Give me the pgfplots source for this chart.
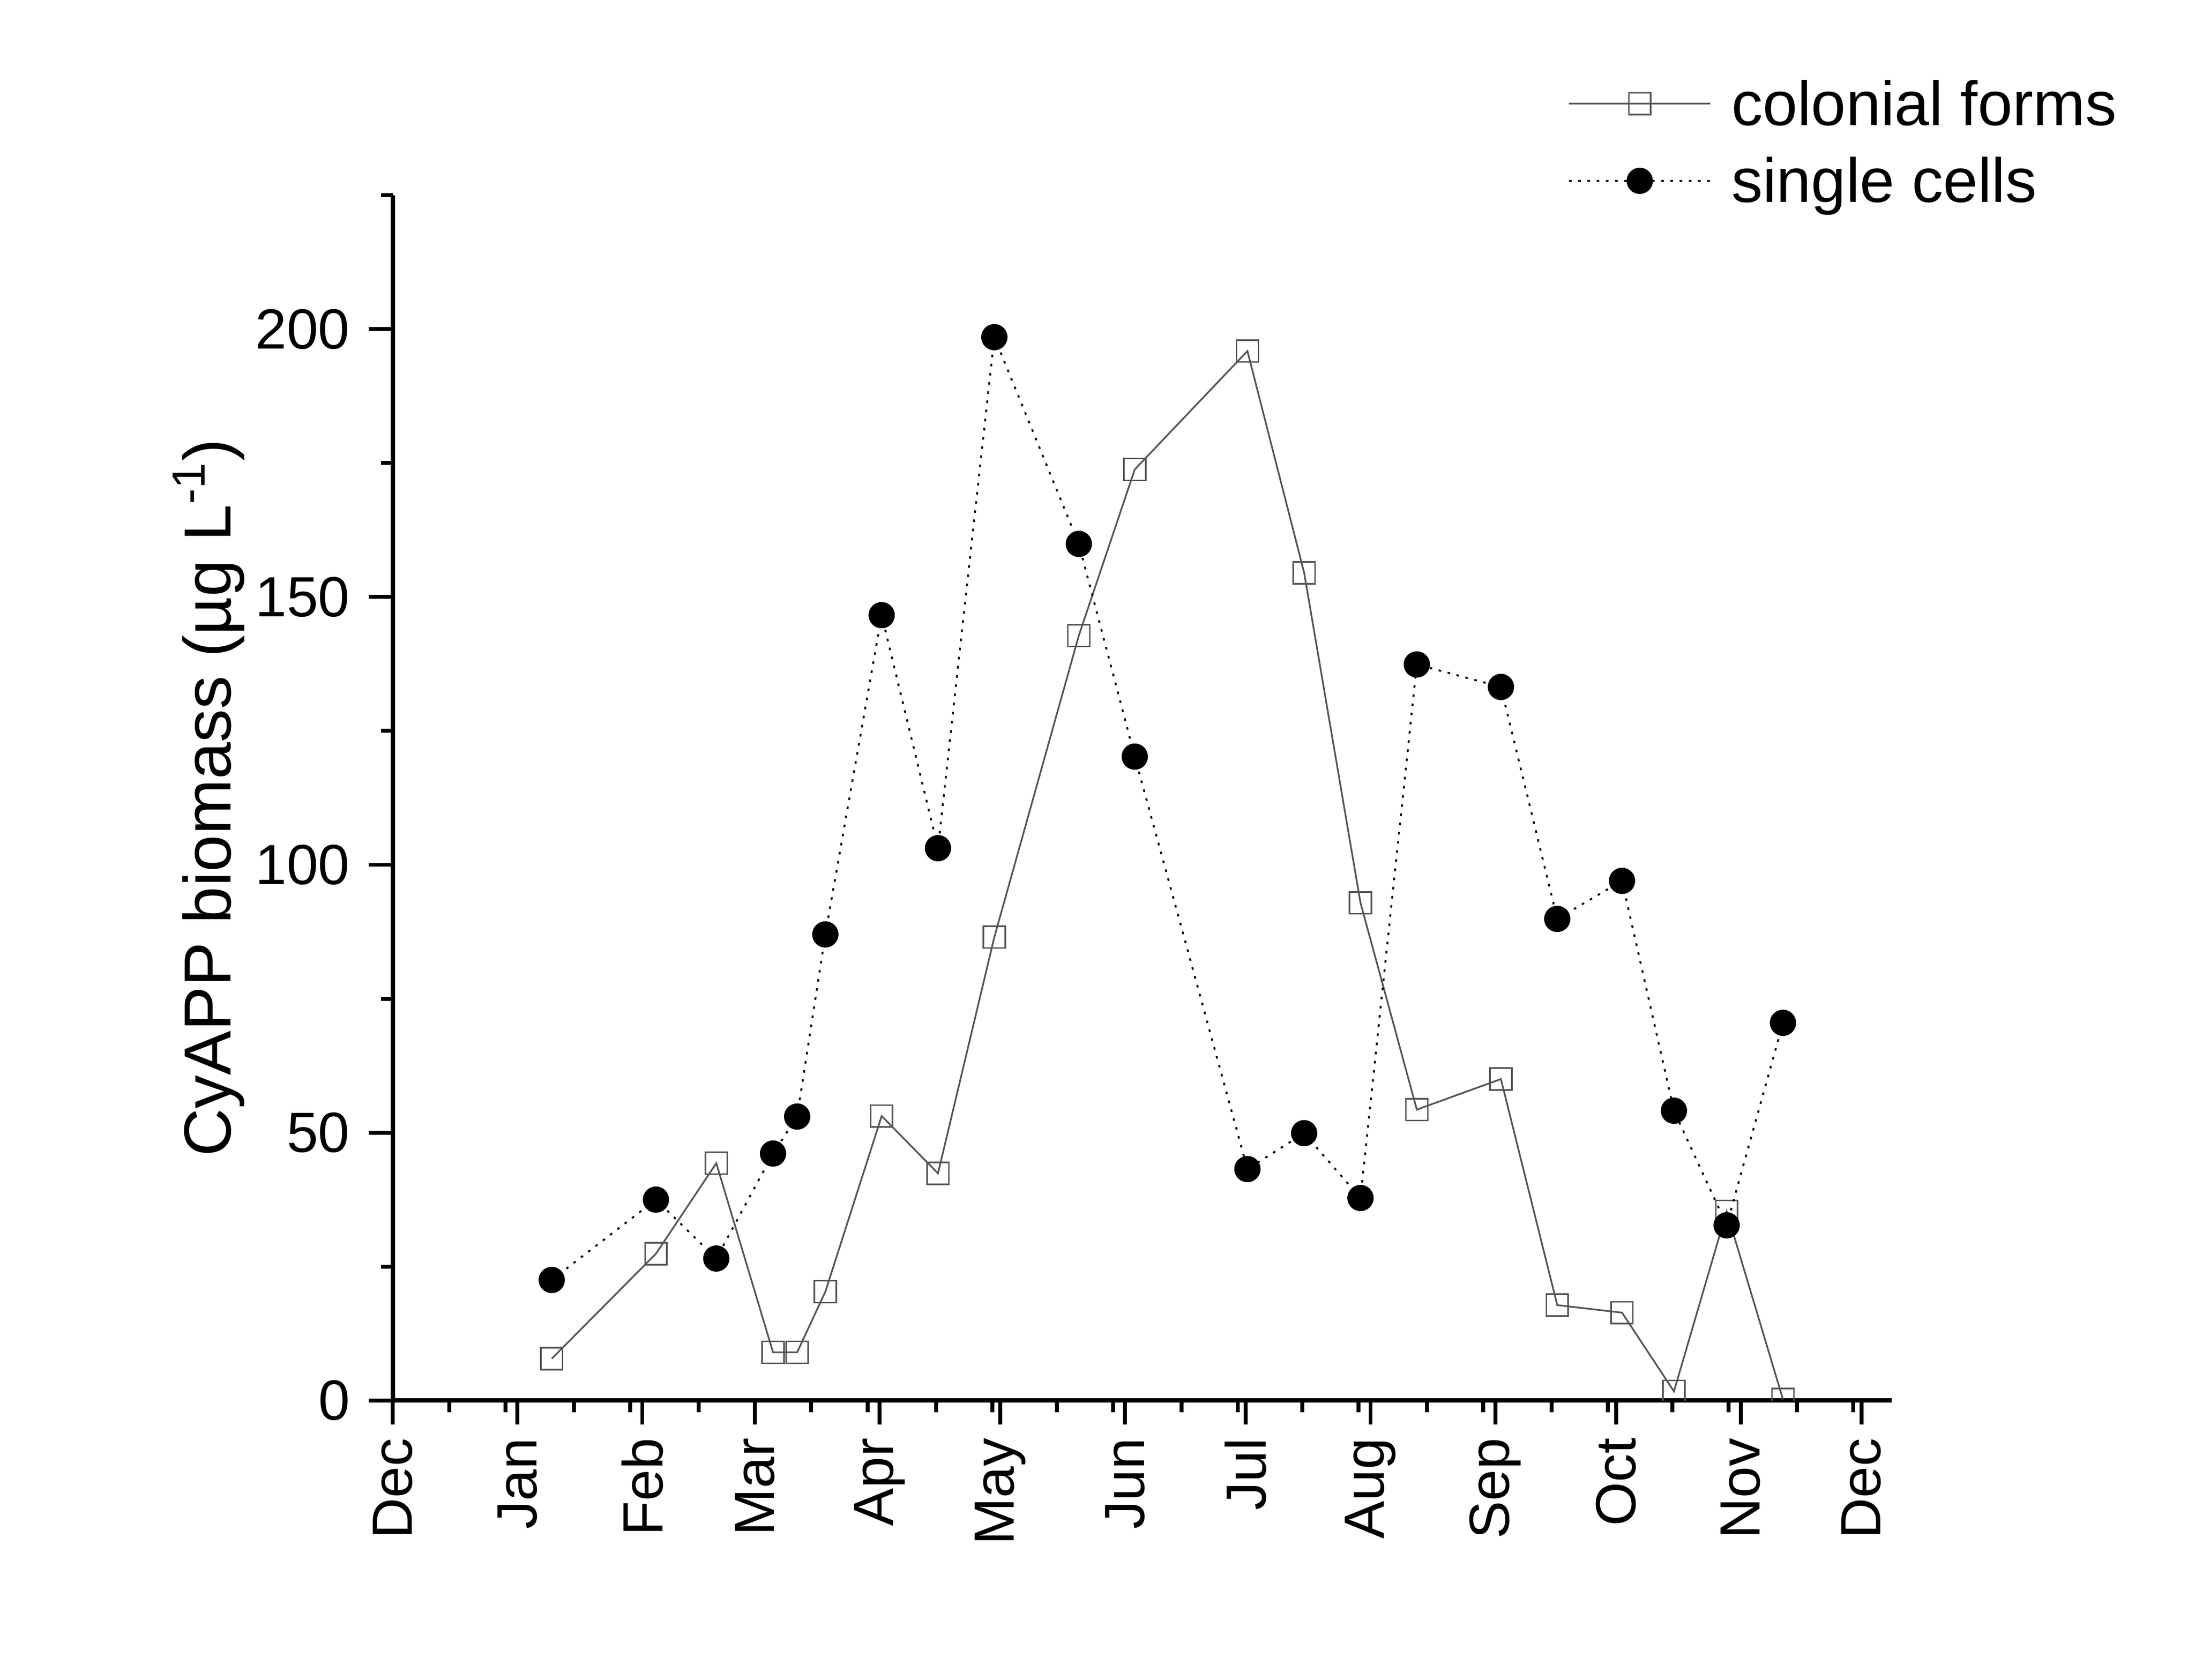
\documentclass[border=0pt]{standalone}
\usepackage{fontspec}
\setmainfont{Liberation Sans}
\usepackage{pgfplots}
\pgfplotsset{compat=1.18}
\definecolor{cgray}{HTML}{555555}
\begin{document}
\begin{tikzpicture}
\useasboundingbox (-115.1pt,-81.9pt) rectangle (528.1pt,410.4pt);
\begin{axis}[
  at={(0,0)}, anchor=south west,
  scale only axis, width=439.2pt, height=353.2pt,
  xmin=0, xmax=372.5, ymin=0, ymax=225,
  axis x line=bottom, axis y line=left,
  axis line style={-, line width=1.3pt, black},
  every tick/.style={black, line width=1.15pt},
  tick align=outside,
  major tick length=7pt, minor tick length=3.5pt,
  xtick={0,31,62,90,121,151,182,212,243,274,304,335,365},
  xticklabels={Dec,Jan,Feb,Mar,Apr,May,Jun,Jul,Aug,Sep,Oct,Nov,Dec},
  minor xtick={14,28,45,59,76,104,118,135,149,165,179,196,210,226,240,257,271,288,302,318,332,349,363},
  ytick={0,50,100,150,200},
  minor ytick={25,75,125,175,225},
  xticklabel style={rotate=90, anchor=east, inner sep=0pt, font=\fontsize{16.6}{16.6}\selectfont},
  yticklabel style={anchor=east, inner sep=0pt, font=\fontsize{16.6}{16.6}\selectfont},
  xticklabel shift=3.8pt,
  yticklabel shift=5.4pt,
  /pgf/number format/assume math mode=true,
  ylabel={CyAPP biomass (µg L\textsuperscript{-1})},
  ylabel style={at={(axis description cs:-0.1082,0.5)}, anchor=base, font=\fontsize{19.5}{19.5}\selectfont},
  clip marker paths=true,
  legend cell align=left,
  legend image code/.code={\draw[mark repeat=2,mark phase=2,#1] plot coordinates {(0pt,0pt) (20.7pt,0pt) (41.4pt,0pt)};},
  legend style={at={(axis description cs:0.7842,1.0977)}, anchor=north west, draw=none, fill=none,
    inner sep=0pt, outer sep=0pt, column sep=5.9pt, row sep=7.2pt,
    nodes={inner sep=0pt, text height=14pt, text depth=1.4pt},
    font=\fontsize{18.3}{18.3}\selectfont},
]
\addplot[cgray, line width=0.5pt, mark=square, mark size=3.2pt,
  mark options={solid, draw=cgray, fill=white, line width=0.45pt}]
  coordinates {
  (39.5,7.8) (65.4,27.4) (80.4,44.3) (94.5,9.0) (100.5,9.0) (107.5,20.3)
  (121.5,53.1) (135.5,42.4) (149.5,86.5) (170.5,142.8) (184.4,173.8)
  (212.4,195.9) (226.5,154.5) (240.5,92.9) (254.5,54.3) (275.4,60.0)
  (289.4,17.8) (305.5,16.4) (318.4,1.7) (331.5,35.3) (345.5,0.2)
  };
\addlegendentry{colonial forms}
\addplot[black, line width=0.55pt, dash pattern=on 0.75pt off 1.95pt, mark=*, mark size=3.75pt,
  mark options={solid, draw=black, fill=black, line width=0.2pt}]
  coordinates {
  (39.5,22.5) (65.4,37.5) (80.4,26.5) (94.5,46.1) (100.5,53.0) (107.5,87.0)
  (121.5,146.6) (135.5,103.1) (149.5,198.5) (170.5,159.9) (184.4,120.2)
  (212.4,43.2) (226.5,49.9) (240.5,37.8) (254.5,137.4) (275.4,133.2)
  (289.4,89.9) (305.5,97.0) (318.4,54.1) (331.5,32.7) (345.5,70.5)
  };
\addlegendentry{single cells}
\end{axis}
\end{tikzpicture}
\end{document}
